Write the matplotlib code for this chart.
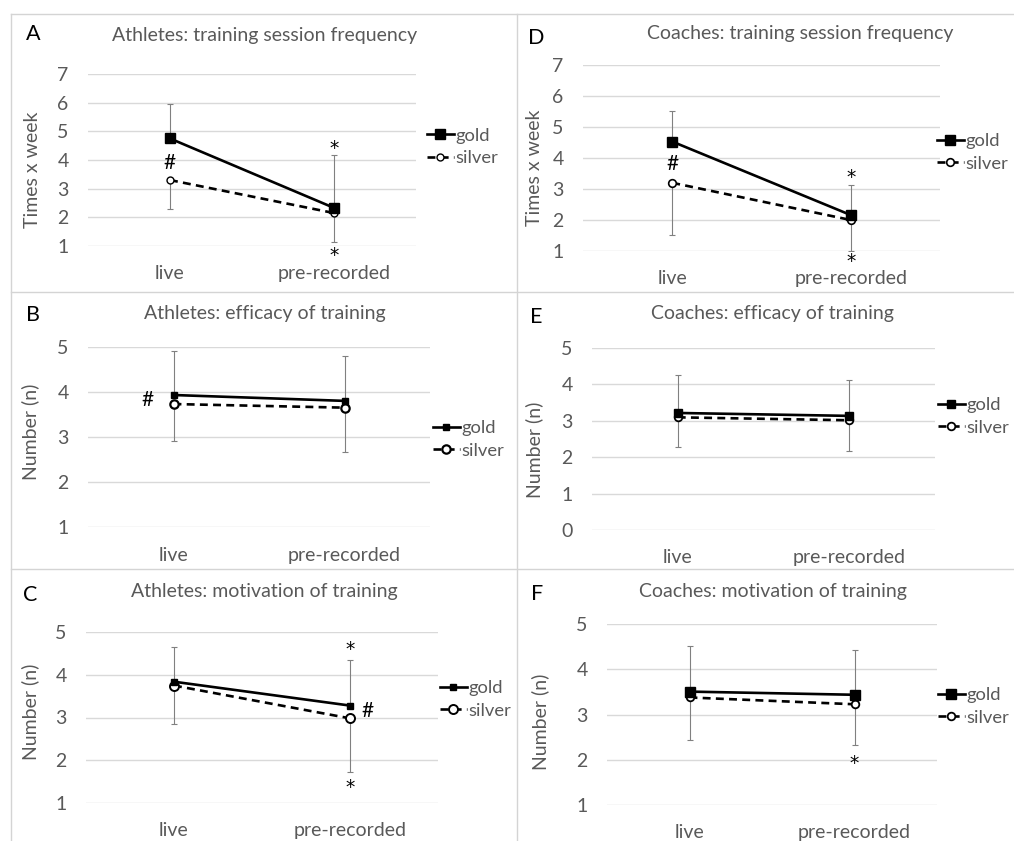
import matplotlib
matplotlib.use("Agg")
import matplotlib.pyplot as plt
from matplotlib.lines import Line2D

plt.rcParams['font.family'] = ['Lato', 'DejaVu Sans']

W, H = 1014, 841
GRAY = '#595959'
GRID = '#d9d9d9'
BORDER = '#d4d4d4'
EBAR = '#808080'

categories = ['live', 'pre-recorded']
series_names = ['gold', 'silver']

a_gold = [4.75, 2.33]
a_silver = [3.30, 2.15]
a_gold_sd = [1.20, 1.85]
a_silver_sd = [1.00, 1.00]

d_gold = [4.53, 2.16]
d_silver = [3.20, 2.00]
d_gold_sd = [1.00, 0.97]
d_silver_sd = [1.68, 1.00]

b_gold = [3.93, 3.80]
b_silver = [3.73, 3.65]
b_gold_sd = [0.98, 1.00]
b_silver_sd = [0.82, 0.98]

e_gold = [3.21, 3.13]
e_silver = [3.09, 3.01]
e_gold_sd = [1.03, 0.99]
e_silver_sd = [0.81, 0.83]

c_gold = [3.84, 3.28]
c_silver = [3.75, 2.98]
c_gold_sd = [0.81, 1.06]
c_silver_sd = [0.90, 1.25]

f_gold = [3.51, 3.44]
f_silver = [3.38, 3.23]
f_gold_sd = [1.02, 0.99]
f_silver_sd = [0.94, 0.90]

titles = {
    'A': 'Athletes: training session frequency',
    'D': 'Coaches: training session frequency',
    'B': 'Athletes: efficacy of training',
    'E': 'Coaches: efficacy of training',
    'C': 'Athletes: motivation of training',
    'F': 'Coaches: motivation of training',
}
ylabels = {'A': 'Times x week', 'D': 'Times x week', 'B': 'Number (n)',
           'E': 'Number (n)', 'C': 'Number (n)', 'F': 'Number (n)'}

marks = {
    'A': [('#', 0, 3.96), ('*', 1, 4.55), ('*', 1, 0.82)],
    'D': [('#', 0, 3.84), ('*', 1, 3.53), ('*', 1, 0.80)],
    'B': [('#', -0.15, 3.84)],
    'E': [],
    'C': [('*', 1, 4.70), ('#', 1.10, 3.18), ('*', 1, 1.46)],
    'F': [('*', 1, 2.03)],
}

# layout (pixel geometry)
panels = {
    'A': dict(data=(a_gold, a_silver, a_gold_sd, a_silver_sd), x0=88, x1=416, yt=74, yb=246, lo=1, hi=7,
              title=(265, 35), letter=(33, 34), ylab=(32, 170), leg=(427, 133, 161), sq=6.5, ci=5.0, ce=1.0),
    'D': dict(data=(d_gold, d_silver, d_gold_sd, d_silver_sd), x0=583, x1=940, yt=65, yb=251, lo=1, hi=7,
              title=(800, 33), letter=(536, 38), ylab=(534, 168), leg=(937, 140, 165), sq=6.5, ci=5.5, ce=1.2),
    'B': dict(data=(b_gold, b_silver, b_gold_sd, b_silver_sd), x0=88, x1=430, yt=346.7, yb=527.3, lo=1, hi=5,
              title=(265, 313), letter=(33, 315), ylab=(30, 432), leg=(433, 426, 453), sq=4.5, ci=6.0, ce=1.6),
    'E': dict(data=(e_gold, e_silver, e_gold_sd, e_silver_sd), x0=592, x1=935, yt=347.7, yb=530, lo=0, hi=5,
              title=(772, 313), letter=(536, 317), ylab=(534, 450), leg=(938, 402, 431), sq=6.0, ci=5.5, ce=1.3),
    'C': dict(data=(c_gold, c_silver, c_gold_sd, c_silver_sd), x0=86, x1=438, yt=632.3, yb=802.7, lo=1, hi=5,
              title=(264, 592), letter=(30, 595), ylab=(30, 712), leg=(440, 685.7, 713.7), sq=4.5, ci=6.5, ce=1.4),
    'F': dict(data=(f_gold, f_silver, f_gold_sd, f_silver_sd), x0=607, x1=937, yt=624.3, yb=805, lo=1, hi=5,
              title=(773, 592), letter=(537, 594), ylab=(540, 722), leg=(938, 691, 721.7), sq=6.5, ci=5.5, ce=1.3),
}

FS = 14
LFS = 13.2

fig = plt.figure(figsize=(W / 100, H / 100), dpi=100)
fig.patch.set_facecolor('white')


def fx(x):
    return x / W


def fy(y):
    return 1 - y / H


# panel borders
for (xa, ya, xb, yb) in [(11, 14, W, 14), (11, 14, 11, H), (517, 14, 517, H),
                         (11, 292, W, 292), (11, 569, W, 569)]:
    fig.add_artist(Line2D([fx(xa), fx(xb)], [fy(ya), fy(yb)], transform=fig.transFigure,
                          color=BORDER, lw=1.0))

for key, p in panels.items():
    gold, silver, gsd, ssd = p['data']
    ax = fig.add_axes([fx(p['x0']), fy(p['yb']), (p['x1'] - p['x0']) / W, (p['yb'] - p['yt']) / H])
    ax.set_xlim(-0.5, 1.5)
    ax.set_ylim(p['lo'], p['hi'])
    for s in ax.spines.values():
        s.set_visible(False)
    ax.set_yticks(range(p['lo'], p['hi'] + 1))
    ax.yaxis.grid(True, color=GRID, lw=1.0)
    ax.set_axisbelow(True)
    ax.set_xticks([0, 1])
    ax.set_xticklabels(categories)
    ax.tick_params(axis='both', length=0, labelsize=FS, colors=GRAY)
    ax.tick_params(axis='y', pad=14)
    ax.tick_params(axis='x', pad=14)
    ax.patch.set_alpha(0)
    x = list(range(len(categories)))

    ax.errorbar(x, gold, yerr=[[0] * len(gold), gsd], fmt='none', ecolor=EBAR,
                elinewidth=0.8, capsize=2.5, capthick=0.8, zorder=2)
    ax.errorbar(x, silver, yerr=[ssd, [0] * len(silver)], fmt='none', ecolor=EBAR,
                elinewidth=0.8, capsize=2.5, capthick=0.8, zorder=2)
    ax.plot(x, silver, color='black', lw=1.9, ls=(0, (3.0, 2.0)), marker='o', ms=p['ci'],
            mfc='white', mec='black', mew=p['ce'], zorder=3, label=series_names[1], clip_on=False)
    ax.plot(x, gold, color='black', lw=1.9, ls='-', marker='s', ms=p['sq'],
            mfc='black', mec='black', zorder=4, label=series_names[0], clip_on=False)

    for (t, mx, my) in marks[key]:
        if t == '*':
            ax.annotate(t, (mx, my), xytext=(0, -3.4), textcoords='offset points',
                        ha='center', va='center', fontsize=13.5, color='black',
                        family=['DejaVu Sans'], annotation_clip=False, zorder=5)
        else:
            ax.annotate(t, (mx, my), xytext=(0, -1.0), textcoords='offset points',
                        ha='center', va='center', fontsize=FS + 1, color='black',
                        annotation_clip=False, zorder=5)

    fig.text(fx(p['title'][0]), fy(p['title'][1]), titles[key], ha='center', va='center',
             fontsize=FS, color=GRAY)
    fig.text(fx(p['letter'][0]), fy(p['letter'][1]), key, ha='center', va='center',
             fontsize=FS + 1.5, color='black')
    fig.text(fx(p['ylab'][0]), fy(p['ylab'][1]), ylabels[key], ha='center', va='center',
             rotation=90, fontsize=FS, color=GRAY)

    lx, lg, ls_ = p['leg']
    h, l = ax.get_legend_handles_labels()
    leg = ax.legend(h[::-1], l[::-1], loc='center left',
                    bbox_to_anchor=(fx(lx), fy((lg + ls_) / 2)), bbox_transform=fig.transFigure,
                    frameon=False, fontsize=LFS, handlelength=1.45, handletextpad=0.12,
                    labelspacing=0.35, borderpad=0, borderaxespad=0)
    for t in leg.get_texts():
        t.set_color(GRAY)

fig.savefig('out.png', dpi=100, facecolor='white')
